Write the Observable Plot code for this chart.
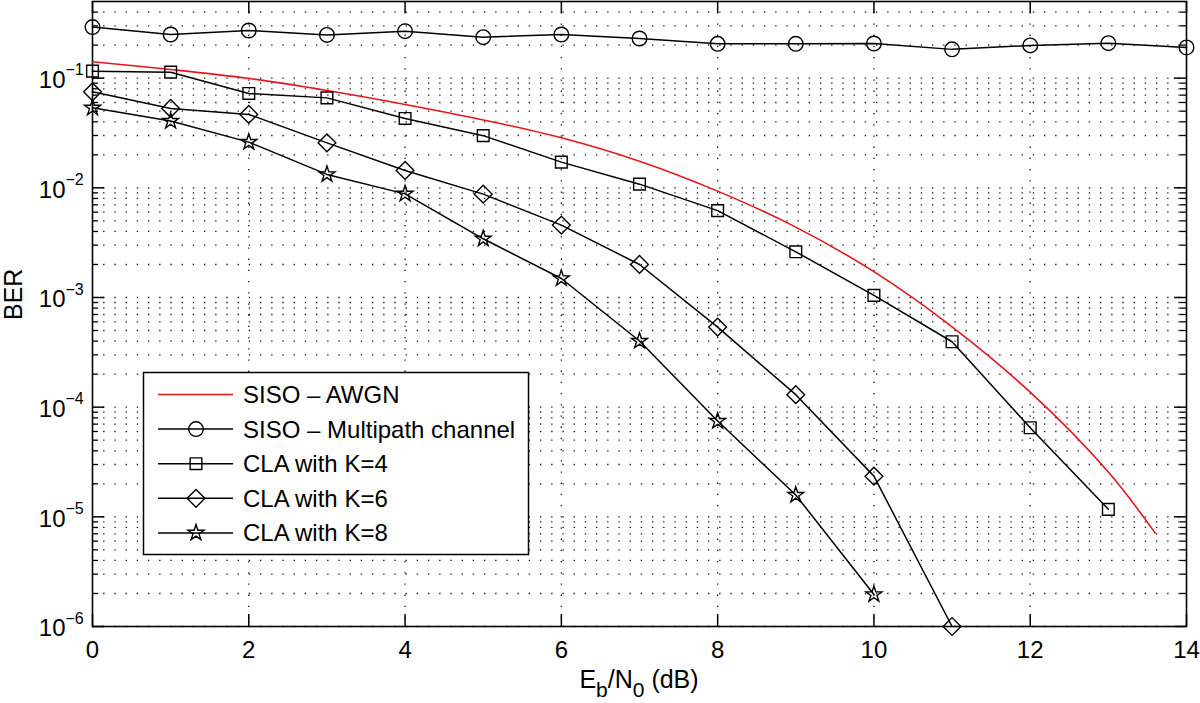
<!DOCTYPE html>
<html><head><meta charset="utf-8">
<script src="https://cdn.jsdelivr.net/npm/d3@7"></script>
<script src="https://cdn.jsdelivr.net/npm/@observablehq/plot@0.6"></script>
<style>
body{margin:0;background:#fff;}
#chart svg{display:block;font-family:"Liberation Sans",Arial,Helvetica,sans-serif;}
</style>
</head><body><div id="chart"></div>
<script>
// ---- data ----
const seriesNames = ["SISO \u2013 AWGN", "SISO \u2013 Multipath channel", "CLA with K=4", "CLA with K=6", "CLA with K=8"];
const awgnX = [0,1,2,3,4,5,6,7,8,9,10,11,12,13,13.6];
const awgnBER = [0.1409,0.120,0.0994,0.0772,0.0576,0.0416,0.0286,0.0175,0.00933,0.00438,0.00172,0.00054,0.000137,0.0000256,0.0000071];
const multiX = [0,1,2,3,4,5,6,7,8,9,10,11,12,13,14];
const multiBER = [0.292,0.250,0.272,0.248,0.268,0.2366,0.250,0.230,0.2055,0.2055,0.207,0.183,0.1987,0.2085,0.1905];
const k4X = [0,1,2,3,4,5,6,7,8,9,10,11,12,13];
const k4BER = [0.1158,0.1134,0.0725,0.0661,0.0429,0.0299,0.01715,0.0108,0.0062,0.00261,0.001045,0.000395,0.0000649,0.0000117];
const k6X = [0,1,2,3,4,5,6,7,8,9,10,11];
const k6BER = [0.0750,0.0530,0.0467,0.0257,0.01441,0.00876,0.00457,0.0020,0.000537,0.000130,0.0000235,0.0000010];
const k8X = [0,1,2,3,4,5,6,7,8,9,10];
const k8BER = [0.0536,0.0406,0.0261,0.01325,0.00881,0.00343,0.00149,0.000401,0.0000747,0.0000158,0.00000196];

// ---- ticks ----
const xTicks = [0,2,4,6,8,10,12,14];
const yMajor = [1e-6,1e-5,1e-4,1e-3,1e-2,1e-1];
const yExponents = ["\u22126","\u22125","\u22124","\u22123","\u22122","\u22121"];
const mantissas = [2,3,4,5,6,7,8,9];
const yMinor = yMajor.flatMap(d => mantissas.map(m => m*d)).filter(v => v < 0.5);
const yGrid = [...yMajor, ...yMinor];

// ---- layout ----
const W = 1200, H = 703, mL = 92, mR = 14, mT = 1, mB = 77;
const pw = W - mL - mR, ph = H - mT - mB;

const mk = (xs, ys, name) => xs.map((x, i) => ({x, y: ys[i], name}));
const awgn = mk(awgnX, awgnBER, seriesNames[0]);
const multi = mk(multiX, multiBER, seriesNames[1]);
const k4 = mk(k4X, k4BER, seriesNames[2]);
const k6 = mk(k6X, k6BER, seriesNames[3]);
const k8 = mk(k8X, k8BER, seriesNames[4]);

const gridStyle = {stroke: "#111", strokeWidth: 1.3, strokeDasharray: "1.3,9.9"};
const symStyle = {fill: "none", stroke: "#000", strokeWidth: 1.4};
const FS = 24;

const chart = Plot.plot({
  width: W, height: H,
  marginLeft: mL, marginRight: mR, marginTop: mT, marginBottom: mB,
  x: {domain: [0, 14], axis: null},
  y: {type: "log", domain: [1e-6, 0.5], axis: null},
  style: {fontFamily: "Liberation Sans, Arial, sans-serif", background: "#fff", overflow: "visible"},
  marks: [
    // grid
    Plot.ruleY(yGrid, {y: d => d, ...gridStyle}),
    Plot.ruleX(xTicks.slice(1, -1), {x: d => d, ...gridStyle}),
    // ticks (inside, all four sides)
    Plot.ruleX(xTicks, {x: d => d, insetTop: ph - 12, stroke: "#000", strokeWidth: 1.5}),
    Plot.ruleX(xTicks, {x: d => d, insetBottom: ph - 12, stroke: "#000", strokeWidth: 1.5}),
    Plot.ruleY(yMajor, {y: d => d, insetRight: pw - 12, stroke: "#000", strokeWidth: 1.5}),
    Plot.ruleY(yMajor, {y: d => d, insetLeft: pw - 12, stroke: "#000", strokeWidth: 1.5}),
    Plot.ruleY(yMinor, {y: d => d, insetRight: pw - 6, stroke: "#000", strokeWidth: 1.3}),
    Plot.ruleY(yMinor, {y: d => d, insetLeft: pw - 6, stroke: "#000", strokeWidth: 1.3}),
    Plot.frame({stroke: "#000", strokeWidth: 1.6}),
    // series
    Plot.line(awgn, {x: "x", y: "y", stroke: "#e8141b", strokeWidth: 1.6, curve: "catmull-rom"}),
    Plot.line(multi, {x: "x", y: "y", stroke: "#000", strokeWidth: 1.5}),
    Plot.line(k4, {x: "x", y: "y", stroke: "#000", strokeWidth: 1.5}),
    Plot.line(k6, {x: "x", y: "y", stroke: "#000", strokeWidth: 1.5}),
    Plot.line(k8, {x: "x", y: "y", stroke: "#000", strokeWidth: 1.5}),
    Plot.dot(multi, {x: "x", y: "y", symbol: "circle", r: 7.3, ...symStyle}),
    Plot.dot(k4, {x: "x", y: "y", symbol: "square", r: 6.6, ...symStyle}),
    Plot.dot(k6, {x: "x", y: "y", symbol: "diamond2", r: 8, ...symStyle}),
    Plot.dot(k8, {x: "x", y: "y", symbol: "star", r: 5, ...symStyle}),
    // tick labels
    Plot.text(xTicks, {x: d => d, text: d => String(d), frameAnchor: "bottom", lineAnchor: "top", dy: 14, fontSize: FS, fill: "#000"}),
    Plot.text(yMajor, {y: d => d, text: () => "10", frameAnchor: "left", textAnchor: "end", dx: -27, dy: 2, fontSize: FS, fill: "#000"}),
    Plot.text(yMajor, {y: d => d, text: (d, i) => yExponents[i], frameAnchor: "left", textAnchor: "start", dx: -27, dy: -8, fontSize: 16, fill: "#000"}),
    // y axis title
    Plot.text(["BER"], {text: d => d, frameAnchor: "left", dx: -79, dy: 6, rotate: -90, fontSize: 25, fill: "#000"})
  ]
});
document.getElementById("chart").append(chart);

// ---- x axis title with subscripts ----
const svg = d3.select(chart);
const xl = svg.append("text")
  .attr("x", mL + pw / 2).attr("y", 688)
  .attr("text-anchor", "middle").attr("font-size", 25).attr("fill", "#000")
  .attr("font-family", "Liberation Sans, Arial, sans-serif");
xl.append("tspan").text("E");
xl.append("tspan").attr("dy", 9).attr("font-size", 21).text("b");
xl.append("tspan").attr("dy", -9).text("/N");
xl.append("tspan").attr("dy", 9).attr("font-size", 21).text("0");
xl.append("tspan").attr("dy", -9).text(" (dB)");

// ---- legend ----
const legendSymbols = [null, d3.symbolCircle, d3.symbolSquare, d3.symbolDiamond2, d3.symbolStar];
const legendR = [0, 7.3, 6.6, 8, 5];
const legendColors = ["#e8141b", "#000", "#000", "#000", "#000"];
const lg = svg.append("g").attr("font-family", "Liberation Sans, Arial, sans-serif").attr("text-anchor", "start");
lg.append("rect").attr("x", 143.5).attr("y", 372.5).attr("width", 385).attr("height", 182)
  .attr("fill", "#fff").attr("stroke", "#000").attr("stroke-width", 1.5);
seriesNames.forEach((name, i) => {
  const cy = 394.5 + i * 34.6;
  lg.append("line").attr("x1", 158).attr("x2", 233).attr("y1", cy).attr("y2", cy)
    .attr("stroke", legendColors[i]).attr("stroke-width", 1.5);
  if (legendSymbols[i]) {
    lg.append("path").attr("transform", `translate(196,${cy})`)
      .attr("d", d3.symbol(legendSymbols[i], Math.PI * legendR[i] * legendR[i])())
      .attr("fill", "none").attr("stroke", "#000").attr("stroke-width", 1.4);
  }
  lg.append("text").attr("x", 243).attr("y", cy).attr("dy", "0.35em")
    .attr("text-anchor", "start")
    .attr("font-size", FS).attr("fill", "#000").text(name);
});
</script>
</body></html>
